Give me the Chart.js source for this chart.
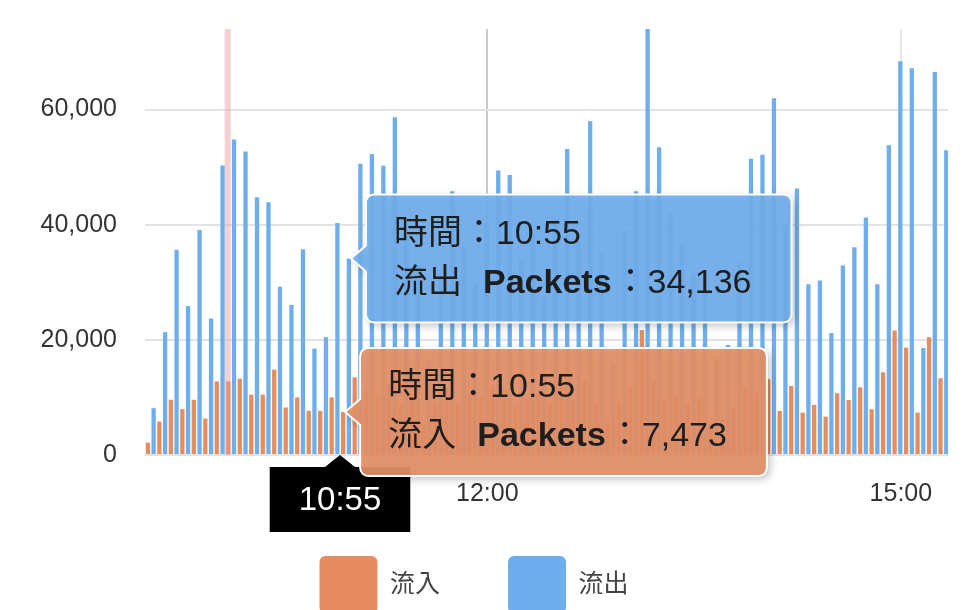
<!DOCTYPE html>
<html lang="zh-Hant">
<head>
<meta charset="utf-8">
<title>流入 / 流出 Packets</title>
<script src="https://cdn.jsdelivr.net/npm/chart.js@4.4.1/dist/chart.umd.min.js"></script>
<style>
  html, body { margin: 0; padding: 0; background: #fff; overflow: hidden; }
  #wrap { width: 972px; height: 610px; overflow: hidden; }
</style>
</head>
<body>
<div id="wrap"><canvas id="traffic" width="972" height="645"></canvas></div>
<script>
// 5-minute samples
const times = [
    '09:30', '09:35', '09:40', '09:45', '09:50', '09:55',
    '10:00', '10:05', '10:10', '10:15', '10:20', '10:25', '10:30', '10:35', '10:40', '10:45', '10:50', '10:55',
    '11:00', '11:05', '11:10', '11:15', '11:20', '11:25', '11:30', '11:35', '11:40', '11:45', '11:50', '11:55',
    '12:00', '12:05', '12:10', '12:15', '12:20', '12:25', '12:30', '12:35', '12:40', '12:45', '12:50', '12:55',
    '13:00', '13:05', '13:10', '13:15', '13:20', '13:25', '13:30', '13:35', '13:40', '13:45', '13:50', '13:55',
    '14:00', '14:05', '14:10', '14:15', '14:20', '14:25', '14:30', '14:35', '14:40', '14:45', '14:50', '14:55',
    '15:00', '15:05', '15:10', '15:15'
];
const inflow = [
    2150, 5800, 9600, 7970, 9600, 6340,
    12790, 12790, 13260, 10470, 10470, 14830, 8260, 10000, 7670, 7670, 10000, 7473,
    13500, 11200, 9800, 12400, 8600, 10100, 5200, 9300, 11800, 8900, 10600, 9900,
    12100, 11300, 8400, 9700, 10900, 8800, 12600, 9400, 13100, 8700, 5600, 9200,
    11900, 21700, 12800, 9600, 10300, 8900, 9800, 5400, 6100, 8200, 11400, 10800,
    13200, 7650, 12000, 7360, 8700, 6660, 10730, 9560, 11770, 7950, 14380, 21620,
    18660, 7360, 20470, 13340
];
const outflow = [
    8140, 21340, 35640, 25870, 39070, 23720,
    50290, 54820, 52730, 44770, 43900, 29240, 26050, 35760, 18490, 20470, 40290, 34136,
    50600, 52300, 50250, 58650, 38000, 33000, 16500, 31000, 45800, 36000, 29500, 40000,
    49440, 48640, 34000, 38500, 27500, 41000, 53160, 37000, 57960, 35000, 15800, 39000,
    45800, 74600, 53440, 42000, 36500, 31500, 28500, 16800, 19100, 33500, 51470, 52170,
    61960, 40000, 46300, 29680, 30300, 21200, 32920, 36100, 41270, 29680, 53790, 68400,
    67180, 18600, 66550, 52920
];
const seriesNames = ['流入', '流出'];
const yTicks = [0, 20000, 40000, 60000];
const xTickLabels = ['12:00', '15:00'];
const markerTime = '10:07';
const focusTime = '10:55';

const FONT = '"Liberation Sans", Arial, "Noto Sans CJK TC", sans-serif';
const ORANGE = '#E68D5F';
const BLUE = '#6EAEEE';
const BAR_SHIFT = 3.5; // bars sit a bit right of their tick
const LEGEND_LIFT = 21;

const toMin = s => { const [h, m] = s.split(':').map(Number); return h * 60 + m; };
const toLabel = m => Math.floor(m / 60) + ':' + String(m % 60).padStart(2, '0');
const fmt = v => v.toLocaleString('en-US');

Chart.defaults.font.family = FONT;

function tipPath(ctx, left, top, w, h, tipX, tipY, r) {
    ctx.beginPath();
    ctx.moveTo(left + r, top);
    ctx.lineTo(left + w - r, top);
    ctx.arcTo(left + w, top, left + w, top + r, r);
    ctx.lineTo(left + w, top + h - r);
    ctx.arcTo(left + w, top + h, left + w - r, top + h, r);
    ctx.lineTo(left + r, top + h);
    ctx.arcTo(left, top + h, left, top + h - r, r);
    ctx.lineTo(left, tipY + 13);
    ctx.lineTo(tipX, tipY);
    ctx.lineTo(left, tipY - 13);
    ctx.lineTo(left, top + r);
    ctx.arcTo(left, top, left + r, top, r);
    ctx.closePath();
}

function drawTip(ctx, el, fill, name, value) {
    const size = 34;
    const reg = size + 'px ' + FONT;
    const bold = 'bold ' + size + 'px ' + FONT;
    const line1 = '時間：' + focusTime;
    ctx.font = reg;
    const w1 = ctx.measureText(line1).width;
    const wName = ctx.measureText(name).width;
    const gap = size * 0.62;
    const wVal = ctx.measureText('：' + fmt(value)).width;
    ctx.font = bold;
    const wPk = ctx.measureText('Packets').width;
    const w2 = wName + gap + wPk + wVal;

    const h = 128;
    const w = Math.max(w1, w2) + 70;
    const left = el.x + 17;
    const top = el.y - h / 2;
    const tipX = el.x + 2;

    ctx.save();
    ctx.shadowColor = 'rgba(0,0,0,0.28)';
    ctx.shadowBlur = 8;
    ctx.shadowOffsetX = 3;
    ctx.shadowOffsetY = 3;
    tipPath(ctx, left, top, w, h, tipX, el.y, 8);
    ctx.fillStyle = fill;
    ctx.fill();
    ctx.restore();
    ctx.save();
    tipPath(ctx, left, top, w, h, tipX, el.y, 8);
    ctx.strokeStyle = '#fff';
    ctx.lineWidth = 2;
    ctx.stroke();

    ctx.fillStyle = '#1e1e1e';
    ctx.textBaseline = 'middle';
    ctx.textAlign = 'left';
    let x = left + 28;
    ctx.font = reg;
    ctx.fillText(line1, x, top + 40);
    ctx.fillText(name, x, top + 89);
    x += wName + gap;
    ctx.font = bold;
    ctx.fillText('Packets', x, top + 89);
    x += wPk + 2;
    ctx.font = reg;
    ctx.fillText('：' + fmt(value), x, top + 89);
    ctx.restore();
}

const overlays = {
    id: 'overlays',
    afterLayout(chart) {
        // pull the legend row up under the axis labels
        chart.legend.top -= LEGEND_LIFT;
        chart.legend.bottom -= LEGEND_LIFT;
    },
    afterDatasetsDraw(chart) {
        const ctx = chart.ctx;
        const area = chart.chartArea;
        const x = chart.scales.x.getPixelForValue(toMin(markerTime));
        ctx.save();
        ctx.fillStyle = 'rgba(232,150,150,0.45)';
        ctx.fillRect(x - 3, area.top, 6, area.bottom - area.top);
        ctx.restore();
    },
    afterDraw(chart) {
        const ctx = chart.ctx;
        const area = chart.chartArea;
        const idx = times.indexOf(focusTime);

        // black label under the axis
        const lx = chart.scales.x.getPixelForValue(toMin(focusTime)) + 2;
        ctx.save();
        ctx.font = '33px ' + FONT;
        const bw = ctx.measureText(focusTime).width + 58;
        const bh = 65;
        const by = area.bottom + 12;
        ctx.fillStyle = '#000';
        ctx.beginPath();
        ctx.moveTo(lx - bw / 2, by);
        ctx.lineTo(lx - 15, by);
        ctx.lineTo(lx, area.bottom);
        ctx.lineTo(lx + 15, by);
        ctx.lineTo(lx + bw / 2, by);
        ctx.lineTo(lx + bw / 2, by + bh);
        ctx.lineTo(lx - bw / 2, by + bh);
        ctx.closePath();
        ctx.fill();
        ctx.fillStyle = '#fff';
        ctx.textAlign = 'center';
        ctx.textBaseline = 'middle';
        ctx.fillText(focusTime, lx, by + bh / 2 + 1);
        ctx.restore();

        const outEl = chart.getDatasetMeta(1).data[idx];
        const inEl = chart.getDatasetMeta(0).data[idx];
        drawTip(ctx, outEl, 'rgba(112,173,236,0.93)', seriesNames[1], outflow[idx]);
        drawTip(ctx, inEl, 'rgba(227,143,102,0.93)', seriesNames[0], inflow[idx]);
    }
};

const ctx = document.getElementById('traffic');
new Chart(ctx, {
    type: 'bar',
    plugins: [overlays],
    data: {
        datasets: [
            {
                label: seriesNames[0],
                data: times.map((t, i) => ({ x: toMin(t) + BAR_SHIFT, y: inflow[i] })),
                backgroundColor: ORANGE,
                borderWidth: 0,
            },
            {
                label: seriesNames[1],
                data: times.map((t, i) => ({ x: toMin(t) + BAR_SHIFT, y: outflow[i] })),
                backgroundColor: BLUE,
                borderWidth: 0,
            }
        ]
    },
    options: {
        responsive: false,
        animation: false,
        events: [],
        categoryPercentage: 1.0,
        barPercentage: 0.75,
        layout: {
            padding: { top: 29, right: 24, bottom: 0, left: 0 }
        },
        plugins: {
            tooltip: { enabled: false },
            legend: {
                position: 'bottom',
                labels: {
                    boxWidth: 58,
                    boxHeight: 58,
                    useBorderRadius: true,
                    borderRadius: 6,
                    padding: 68,
                    color: '#444',
                    font: { size: 25, family: FONT }
                }
            }
        },
        scales: {
            x: {
                type: 'linear',
                min: 571,
                max: 920.5,
                offset: false,
                afterBuildTicks: s => { s.ticks = xTickLabels.map(t => ({ value: toMin(t) })); },
                afterFit: s => { s.height = 54; },
                border: { display: false },
                grid: {
                    offset: false,
                    drawTicks: false,
                    lineWidth: 2,
                    color: c => (c.tick && c.tick.value === toMin('12:00')) ? '#c9c9c9' : '#e6e6e6'
                },
                ticks: {
                    padding: 24,
                    maxRotation: 0,
                    autoSkip: false,
                    color: '#333',
                    font: { size: 25 },
                    callback: v => toLabel(v)
                }
            },
            y: {
                min: 0,
                max: 74000,
                afterBuildTicks: s => { s.ticks = yTicks.map(v => ({ value: v })); },
                afterFit: s => {
                    s.width = 145;
                    s.paddingTop = 0;
                    s.paddingBottom = 0;
                },
                border: { display: false },
                grid: { color: '#e3e3e3', lineWidth: 2, drawTicks: false },
                ticks: {
                    padding: 28,
                    color: '#333',
                    font: { size: 25 },
                    callback: v => fmt(v)
                }
            }
        }
    }
});
</script>
</body>
</html>
